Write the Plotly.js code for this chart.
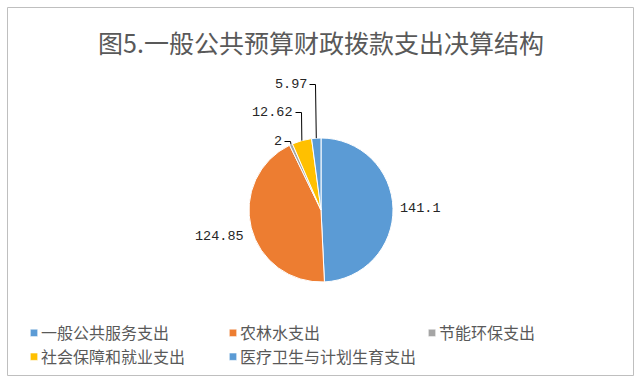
<!DOCTYPE html>
<html><head><meta charset="utf-8">
<script src="https://cdn.plot.ly/plotly-3.0.1.min.js"></script>
<style>body{margin:0;background:#fff}</style>
</head><body><div id="chart" style="width:642px;height:383px"></div>
<script>
const categories = ['一般公共服务支出','农林水支出','节能环保支出','社会保障和就业支出','医疗卫生与计划生育支出'];
const values = [141.1, 124.85, 2, 12.62, 5.97];
const valueLabels = ['141.1','124.85','2','12.62','5.97'];
const colors = ['#5B9BD5','#ED7D31','#A5A5A5','#FFC000','#5B9BD5'];

const W = 642, H = 383;
const cx = 321, cy = 210, R = 72;       // pie geometry in pixels
const lift = [null, null, 4, 29, 54];  // leader-line lift for small slices (px)

const px = x => x / W, py = y => 1 - y / H;
const total = values.reduce((a,b)=>a+b,0);
let cum = 0;
const annotations = [], shapes = [];
const lblFont = {family:'Liberation Mono, monospace', size:13.5, color:'#262626'};
values.forEach((v,i)=>{
  const mid = (cum + v/2)/total*2*Math.PI; cum += v;
  const ax = cx + R*Math.sin(mid), ay = cy - R*Math.cos(mid);
  if (lift[i] == null) {
    const d = R + 5;
    const tx = cx + d*Math.sin(mid), ty = cy - d*Math.cos(mid) + (Math.sin(mid) < 0 ? 7 : 0);
    annotations.push({x:px(tx), y:py(ty), xref:'paper', yref:'paper', text:valueLabels[i], showarrow:false,
      xanchor: Math.sin(mid) > 0 ? 'left':'right', yanchor:'middle', font:lblFont});
  } else {
    const ly = Math.round(ay - lift[i]) + 0.5, vx = Math.round(ax - 1) + 0.5;
    shapes.push({type:'path', xref:'paper', yref:'paper',
      path:`M${px(ax)},${py(ay)} L${px(vx)},${py(ly)} L${px(vx-6)},${py(ly)}`,
      line:{color:'#000', width:1}});
    annotations.push({x:px(vx-7), y:py(ly), xref:'paper', yref:'paper', text:valueLabels[i], showarrow:false,
      xanchor:'right', yanchor:'middle', font:lblFont});
  }
});
shapes.push({type:'rect', xref:'paper', yref:'paper', x0:px(7.5), x1:px(633.5), y0:py(375.5), y1:py(7.5),
  line:{color:'#BFBFBF', width:1}});

const trace = {
  type:'pie', labels:categories, values:values, sort:false, direction:'clockwise', rotation:0,
  marker:{colors:colors, line:{color:'#fff', width:1}},
  textinfo:'none', hoverinfo:'none',
  domain:{x:[px(cx-R), px(cx+R)], y:[py(cy+R), py(cy-R)]}
};
const layout = {
  width:W, height:H, margin:{l:0,r:0,t:0,b:0,autoexpand:false}, paper_bgcolor:'#fff',
  title:{text:'图5.一般公共预算财政拨款支出决算结构', x:0.5, xanchor:'center', y:py(44), yanchor:'middle',
    font:{family:'Noto Sans CJK SC', size:25, color:'#595959'}},
  showlegend:true,
  legend:{orientation:'h', x:px(1), y:py(316), xanchor:'left', yanchor:'top', bgcolor:'rgba(0,0,0,0)',
    entrywidth:154, entrywidthmode:'pixels', itemwidth:30, tracegroupgap:0,
    font:{family:'Noto Sans CJK SC', size:16, color:'#595959'}},
  annotations:annotations, shapes:shapes
};
Plotly.newPlot('chart',[trace],layout,{displayModeBar:false, staticPlot:true}).then(gd=>{
  gd.querySelectorAll('.legend .legendpoints path').forEach(p=>{
    p.setAttribute('transform','translate(33,0) scale(0.62)');
  });
});
</script></body></html>
